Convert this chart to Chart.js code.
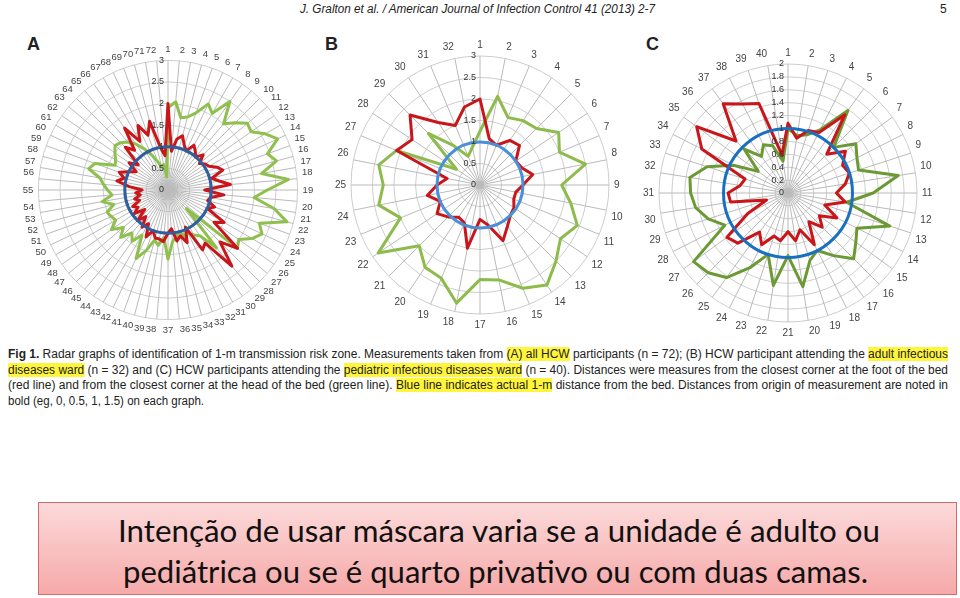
<!DOCTYPE html>
<html>
<head>
<meta charset="utf-8">
<script src="https://cdn.jsdelivr.net/npm/chart.js@4.4.1/dist/chart.umd.min.js"></script>
<style>
body { margin: 0; width: 960px; height: 598px; background: #fff; position: relative; overflow: hidden; font-family: "Liberation Sans", Arial, sans-serif; color: #222; }
canvas { position: absolute; }
.abs { position: absolute; white-space: nowrap; transform-origin: 0 0; }
.cab { top: 2px; font-size: 12px; font-style: italic; font-family: "Liberation Sans Narrow", "Liberation Sans", sans-serif; }
.letra { top: 34px; font-size: 18px; font-weight: bold; font-family: "Liberation Sans", Arial, sans-serif; }
.leg { left: 8px; font-size: 12px; font-family: "Liberation Sans Narrow", "Liberation Sans", sans-serif; line-height: 15px; }
.hl { background: #fff53a; }
#caixa { position: absolute; left: 38px; top: 502px; width: 917px; height: 91px; border: 1px solid #d46a6a;
  background: linear-gradient(#fcdada, #f6a9a9); }
.rosa { font-family: Lato, "Open Sans", sans-serif; font-size: 31px; color: #111; line-height: 36px; }
</style>
</head>
<body>
<div class="abs cab" id="cab" style="left:300px">J. Gralton et al. / American Journal of Infection Control 41 (2013) 2-7</div>
<div class="abs cab" style="left:940px;font-style:normal">5</div>
<div class="abs letra" style="left:27px">A</div>
<div class="abs letra" style="left:325px">B</div>
<div class="abs letra" style="left:646px">C</div>

<canvas id="radarA" width="300" height="300" style="left:18px;top:40px"></canvas>
<canvas id="radarB" width="300" height="300" style="left:329px;top:35px"></canvas>
<canvas id="radarC" width="300" height="300" style="left:638px;top:43px"></canvas>

<div class="abs leg just" style="top:347px"><b>Fig 1.</b> Radar graphs of identification of 1-m transmission risk zone. Measurements taken from <span class="hl">(A) all HCW</span> participants (n = 72); (B) HCW participant attending the <span class="hl">adult infectious</span></div>
<div class="abs leg just" style="top:363px"><span class="hl">diseases ward</span> (n = 32) and (C) HCW participants attending the <span class="hl">pediatric infectious diseases ward</span> (n = 40). Distances were measures from the closest corner at the foot of the bed</div>
<div class="abs leg just" style="top:378px">(red line) and from the closest corner at the head of the bed (green line). <span class="hl">Blue line indicates actual 1-m</span> distance from the bed. Distances from origin of measurement are noted in</div>
<div class="abs leg" id="ultima" style="top:394px">bold (eg, 0, 0.5, 1, 1.5) on each graph.</div>

<div id="caixa"></div>
<div class="abs rosa" id="rosa1" style="left:118px;top:512px">Intenção de usar máscara varia se a unidade é adulto ou</div>
<div class="abs rosa" id="rosa2" style="left:123px;top:553px">pediátrica ou se é quarto privativo ou com duas camas.</div>

<script>
// rótulos dos raios (participantes)
const rotulosA = Array.from({ length: 72 }, (_, i) => String(i + 1));
const rotulosB = Array.from({ length: 32 }, (_, i) => String(i + 1));
const rotulosC = Array.from({ length: 40 }, (_, i) => String(i + 1));

// distâncias (m) - canto do pé da cama (vermelho) e da cabeceira (verde)
const pesA = [2.0,0.9,1.2,1.3,1.1,1.0,1.2,1.1,1.0,1.15,0.95,1.05,1.1,1.25,1.35,1.05,1.2,1.45,0.85,1.3,
  1.0,0.95,1.15,1.0,1.5,1.3,2.1,1.7,2.3,1.5,1.6,0.95,1.3,1.1,1.2,0.9,1.0,1.2,1.15,1.15,
  1.0,1.2,0.9,1.05,0.8,1.0,0.7,0.95,0.8,0.9,0.7,0.8,0.65,0.75,0.6,0.9,1.2,1.05,1.2,1.0,
  0.85,1.1,0.9,1.4,1.2,1.75,1.3,1.65,1.35,1.65,1.0,0.8];
const cabeceiraA = [1.9,2.05,1.7,1.75,1.9,2.2,2.05,2.5,2.0,2.2,2.4,2.35,2.6,2.8,2.45,2.6,2.2,2.8,2.3,2.0,
  2.5,2.85,2.25,2.4,2.25,2.0,2.1,0.6,1.75,1.3,1.2,1.1,1.15,1.0,1.1,1.2,1.6,1.1,1.3,1.2,
  1.5,1.75,1.2,1.45,1.3,1.55,1.35,1.6,1.4,1.45,1.5,1.3,1.55,1.3,1.4,1.5,1.6,1.9,1.8,1.35,
  1.4,1.5,1.6,1.55,1.45,1.3,1.1,0.9,0.7,0.55,0.6,0.3];

const pesB = [2.0,1.1,1.0,1.25,1.3,1.0,1.05,1.25,1.0,0.85,0.85,0.95,1.0,1.15,1.4,0.95,0.8,1.5,0.95,0.9,
  1.05,1.2,1.0,1.25,1.0,0.78,2.1,1.9,2.3,1.75,1.5,1.85];
const cabeceiraB = [1.25,2.1,1.7,1.8,1.86,2.2,2.0,2.5,1.9,2.15,2.45,2.25,2.5,2.8,2.6,2.25,2.2,2.8,2.35,2.3,
  2.0,2.85,2.0,2.4,2.25,2.4,2.1,0.66,1.7,1.1,0.72,0.9];

const pesC = [1.08,0.86,1.02,1.05,1.5,0.85,1.1,0.95,1.0,0.9,0.75,0.9,0.6,0.85,0.6,0.75,0.55,0.9,0.6,0.75,
  0.6,0.75,0.7,0.9,0.75,1.1,1.17,0.7,0.35,0.9,0.93,0.75,0.7,1.5,1.75,1.14,1.71,1.55,1.46,0.6];
const cabeceiraC = [1.0,0.9,0.95,1.1,1.58,1.0,1.3,1.2,1.15,1.73,1.32,0.92,1.66,1.2,1.3,1.44,1.2,1.0,1.1,1.47,
  0.97,1.45,1.0,1.3,1.62,1.75,1.81,1.1,1.3,1.45,1.51,1.54,1.32,0.95,0.57,0.96,0.7,0.84,0.77,0.5];

// distância real de 1 m (linha azul)
const umMetro = 1;

// Plugin: anel azul de 1 m + rótulos dos ticks à esquerda do eixo
const pluginAnel = {
    id: 'anelUmMetro',
    afterDatasetsDraw: function (chart, args, opts) {
        const r = chart.scales.r;
        const ctx = chart.ctx;
        ctx.save();
        ctx.beginPath();
        ctx.arc(r.xCenter, r.yCenter, r.getDistanceFromCenterForValue(opts.valor), 0, Math.PI * 2);
        ctx.strokeStyle = opts.cor;
        ctx.lineWidth = 3;
        ctx.stroke();

        ctx.font = '9px "Liberation Sans", Arial, sans-serif';
        ctx.fillStyle = '#333';
        ctx.textAlign = 'right';
        ctx.textBaseline = 'middle';
        r.ticks.forEach(t => {
            const d = r.getDistanceFromCenterForValue(t.value);
            ctx.fillText(t.label, r.xCenter - 4, r.yCenter - d);
        });
        ctx.restore();
    }
};

function criarRadar(id, rotulos, vermelho, verde, corVerde, corAzul, maximo, passo, fonte) {
    new Chart(document.getElementById(id), {
        type: 'radar',
        data: {
            labels: rotulos,
            datasets: [
                { data: vermelho, borderColor: '#c8161b', borderWidth: 3, pointRadius: 0, fill: false, borderJoinStyle: 'round' },
                { data: verde, borderColor: corVerde, borderWidth: 3, pointRadius: 0, fill: false, borderJoinStyle: 'round' }
            ]
        },
        options: {
            responsive: false,
            animation: false,
            layout: { padding: 4 },
            plugins: {
                legend: { display: false },
                tooltip: { enabled: false },
                anelUmMetro: { valor: umMetro, cor: corAzul }
            },
            scales: {
                r: {
                    min: 0,
                    max: maximo,
                    ticks: {
                        stepSize: passo,
                        display: false,
                        callback: v => String(Number(v.toFixed(2)))
                    },
                    grid: { circular: true, color: '#cdcdcd', lineWidth: 1 },
                    angleLines: { color: '#bababa', lineWidth: 1 },
                    pointLabels: { font: { size: fonte, family: '"Liberation Sans", Arial, sans-serif' }, color: '#444', padding: 5 }
                }
            }
        },
        plugins: [pluginAnel]
    });
}

criarRadar('radarA', rotulosA, pesA, cabeceiraA, '#8fc04e', '#2f5f9e', 3, 0.5, 9.5);
criarRadar('radarB', rotulosB, pesB, cabeceiraB, '#8dbb4c', '#4a90d9', 3, 0.5, 10);
criarRadar('radarC', rotulosC, pesC, cabeceiraC, '#6b9a35', '#1a70c0', 2, 0.2, 10);

// ajusta larguras dos textos ao original
function ajustar(el, alvo) {
    const w = el.getBoundingClientRect().width;
    el.style.transform = 'scaleX(' + (alvo / w) + ')';
}
document.querySelectorAll('.just').forEach(el => {
    const alvo = 940;
    const w = el.getBoundingClientRect().width;
    const espacos = (el.textContent.match(/ /g) || []).length;
    if (w < alvo) el.style.wordSpacing = ((alvo - w) / espacos) + 'px';
    else el.style.transform = 'scaleX(' + (alvo / w) + ')';
});
ajustar(document.getElementById('ultima'), 196);
ajustar(document.getElementById('cab'), 355);
ajustar(document.getElementById('rosa1'), 762);
ajustar(document.getElementById('rosa2'), 745);
</script>
</body>
</html>
